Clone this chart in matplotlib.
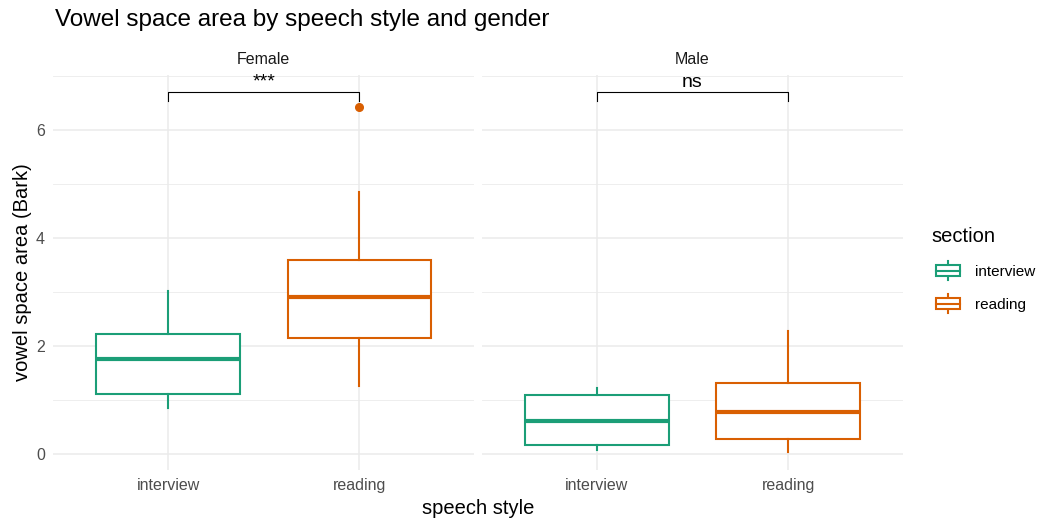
import matplotlib
matplotlib.use("Agg")
import matplotlib.pyplot as plt
from matplotlib.legend_handler import HandlerBase
from matplotlib.lines import Line2D
from matplotlib.patches import Rectangle

# data (Bark)
genders = ["Female", "Male"]
styles = ["interview", "reading"]
colors = ["#1B9E77", "#D95F02"]

whislo = {"Female": [0.85, 1.26], "Male": [0.07, 0.04]}
q1 = {"Female": [1.11, 2.15], "Male": [0.17, 0.28]}
med = {"Female": [1.76, 2.91], "Male": [0.62, 0.77]}
q3 = {"Female": [2.22, 3.59], "Male": [1.09, 1.31]}
whishi = {"Female": [3.02, 4.85], "Male": [1.22, 2.27]}
outliers = {"Female": [[], [6.42]], "Male": [[], []]}
signif = {"Female": "***", "Male": "ns"}
bracket_y = 6.70
bracket_tick = 0.16

W, H = 1039, 521
fig = plt.figure(figsize=(W / 100, H / 100), dpi=100)
plt.rcParams["font.family"] = ["Liberation Sans", "DejaVu Sans"]

grid_c = "#EBEBEB"
tick_c = "#4D4D4D"
small = 11.5

panels = [(53.4, 474.0), (482.0, 903.0)]
top_px, bot_px = 75, 470
axes = []
for (l, r), g in zip(panels, genders):
    ax = fig.add_axes([l / W, 1 - bot_px / H, (r - l) / W, (bot_px - top_px) / H])
    axes.append(ax)
    for i in range(2):
        c = colors[i]
        st = dict(whislo=whislo[g][i], q1=q1[g][i], med=med[g][i],
                  q3=q3[g][i], whishi=whishi[g][i], fliers=outliers[g][i])
        ax.bxp([st], positions=[i + 1], widths=0.75, showcaps=False,
               patch_artist=True,
               boxprops=dict(facecolor="white", edgecolor=c, linewidth=1.5),
               whiskerprops=dict(color=c, linewidth=1.5),
               medianprops=dict(color=c, linewidth=3.0, solid_capstyle="butt"),
               flierprops=dict(marker="o", markerfacecolor=c, markeredgecolor=c,
                               markersize=5.5))
    ax.set_xlim(0.4, 2.6)
    ax.set_ylim(-0.296, 7.02)
    ax.set_xticks([1, 2])
    ax.set_xticklabels(styles)
    ax.set_yticks([0, 2, 4, 6])
    ax.set_yticks([1, 3, 5, 7], minor=True)
    ax.grid(True, which="major", color=grid_c, linewidth=1.1)
    ax.grid(True, which="minor", axis="y", color=grid_c, linewidth=0.6)
    ax.set_axisbelow(True)
    for s in ax.spines.values():
        s.set_visible(False)
    ax.tick_params(which="both", length=0, labelsize=small, labelcolor=tick_c, pad=6)
    ax.set_title(g, fontsize=small, color="#1A1A1A", pad=8)
    # significance bracket
    ax.plot([1, 1, 2, 2], [bracket_y - bracket_tick, bracket_y, bracket_y, bracket_y - bracket_tick],
            color="black", linewidth=0.8)
    ax.text(1.5, bracket_y + 0.03, signif[g], ha="center", va="bottom",
            fontsize=14, color="black")

axes[1].tick_params(axis="y", labelleft=False)
axes[0].set_ylabel("vowel space area (Bark)", fontsize=14.5, color="black", labelpad=3)

fig.text(478 / W, 1 - 508 / H, "speech style", ha="center", va="center", fontsize=14.5)
fig.text(55 / W, 1 - 20 / H, "Vowel space area by speech style and gender",
         ha="left", va="center", fontsize=17.5)


class BoxHandler(HandlerBase):
    def create_artists(self, legend, orig_handle, xdescent, ydescent, width, height, fontsize, trans):
        c = orig_handle.get_color()
        cx = width / 2 - xdescent
        bw = 17.5
        bh = 8
        y0 = -ydescent + (height - bh) / 2
        rect = Rectangle((cx - bw / 2, y0), bw, bh, facecolor="white", edgecolor=c,
                         linewidth=1.5, transform=trans)
        mid = Line2D([cx - bw / 2, cx + bw / 2], [y0 + bh / 2] * 2, color=c,
                     linewidth=1.5, transform=trans)
        w1 = Line2D([cx, cx], [y0 + bh, y0 + bh + 3], color=c, linewidth=1.5, transform=trans)
        w2 = Line2D([cx, cx], [y0, y0 - 3], color=c, linewidth=1.5, transform=trans)
        return [w1, w2, rect, mid]


handles = [Line2D([], [], color=c) for c in colors]
leg = fig.legend(handles, styles, handler_map={Line2D: BoxHandler()},
                 loc="upper left", bbox_to_anchor=(921 / W, 1 - 216 / H),
                 frameon=False, title="section", fontsize=11, title_fontsize=14.5,
                 handlelength=2.1, handleheight=1.1, labelspacing=1.15,
                 handletextpad=0.75, borderpad=0.2)
leg._legend_box.align = "left"

fig.savefig("out.png", dpi=100)
